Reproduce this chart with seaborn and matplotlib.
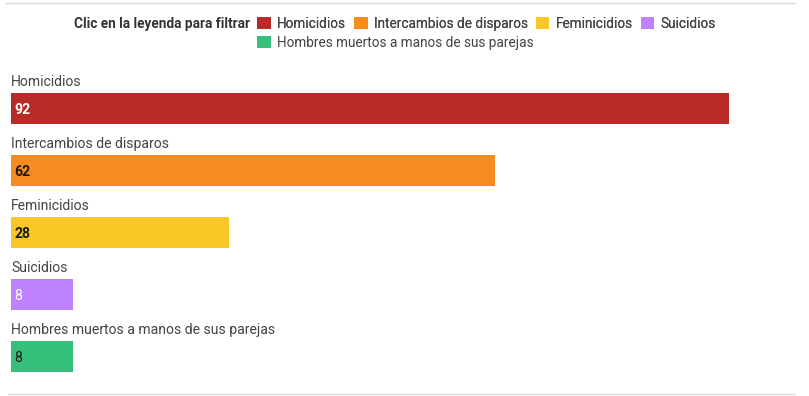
import matplotlib
matplotlib.use('Agg')
import matplotlib.pyplot as plt
import seaborn as sns
from matplotlib.patches import Patch
from matplotlib.lines import Line2D

categorias = ['Homicidios', 'Intercambios de disparos', 'Feminicidios', 'Suicidios',
              'Hombres muertos a manos de sus parejas']
valores = [92, 62, 28, 8, 8]
colores = ['#B92B27', '#F68B20', '#F9C726', '#BE82FF', '#36BE7B']
color_etiqueta = ['white', '#1a1a1a', '#1a1a1a', 'white', '#1a1a1a']

sns.set_style('white')
plt.rcParams['font.family'] = ['Roboto', 'DejaVu Sans']

W, H = 809, 396
fs = 9.8
fig = plt.figure(figsize=(W / 100, H / 100), dpi=100)

# ejes: x de 11px a 791px (0..100), y: i=-1 en 46.5px, i=4.5 en 387.5px
ax = fig.add_axes([11 / W, (H - 387.5) / H, 780 / W, (387.5 - 46.5) / H])
sns.barplot(x=valores, y=categorias, hue=categorias, palette=colores, orient='h',
            legend=False, width=0.5, linewidth=0, saturation=1, ax=ax)
ax.set_xlim(0, 100)
ax.set_ylim(4.5, -1)
ax.axis('off')

for i, (cat, val) in enumerate(zip(categorias, valores)):
    ax.text(0, i - 0.31, cat, ha='left', va='bottom', fontsize=fs + 0.3,
            color='#444444')
    ax.text(0.45, i + 0.02, str(val), ha='left', va='center', fontsize=fs + 0.3,
            color=color_etiqueta[i], fontweight='bold' if i < 3 else 'normal')

# lineas de arriba y abajo
fig.add_artist(Line2D([5 / W, 795 / W], [1 - 3 / H, 1 - 3 / H], color='#dddddd', lw=1))
fig.add_artist(Line2D([8 / W, 795 / W], [1 - 394 / H, 1 - 394 / H], color='#dddddd', lw=1))

# leyenda
fig.text(250 / W, 1 - 24 / H, 'Clic en la leyenda para filtrar', ha='right', va='center',
         fontsize=fs, fontweight='bold', color='#333333')
handles = [Patch(facecolor=c, edgecolor='none', label=l) for c, l in zip(colores, categorias)]
props = dict(size=fs)
leg1 = fig.legend(handles=handles[:4], ncol=4, loc='center left',
                  bbox_to_anchor=(257 / W, 1 - 24 / H), frameon=False, prop=props,
                  handlelength=1.0, handleheight=1.0, handletextpad=0.45,
                  columnspacing=0.6, borderpad=0, borderaxespad=0, labelcolor='#444444')
leg2 = fig.legend(handles=handles[4:], ncol=1, loc='center left',
                  bbox_to_anchor=(257 / W, 1 - 43 / H), frameon=False, prop=props,
                  handlelength=1.0, handleheight=1.0, handletextpad=0.45,
                  borderpad=0, borderaxespad=0, labelcolor='#444444')
fig.add_artist(leg1)

fig.savefig('out.png', dpi=100)
